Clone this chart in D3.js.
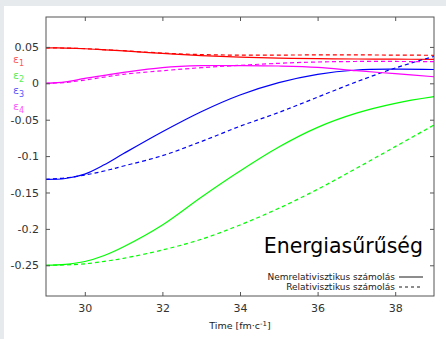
<!DOCTYPE html>
<html>
<head>
<meta charset="utf-8">
<script src="https://cdn.jsdelivr.net/npm/d3@7"></script>
<style>
  body { margin: 0; background: #e7eaed; }
  svg { display: block; font-family: "DejaVu Sans", sans-serif; }
</style>
</head>
<body>
<div id="chart"></div>
<script>
// time grid (fm/c) and the eccentricities
const times = [29, 29.5, 30, 30.5, 31, 32, 33, 34, 35, 36, 37, 38, 39];

const e1Nonrel = [0.0488, 0.0484, 0.0475, 0.046, 0.0445, 0.041, 0.038, 0.036, 0.0345, 0.0338, 0.0334, 0.0331, 0.033];
const e1Rel    = [0.0488, 0.0484, 0.0476, 0.0462, 0.0448, 0.0415, 0.0395, 0.0387, 0.0388, 0.039, 0.039, 0.0388, 0.0385];
const e2Nonrel = [-0.25, -0.2488, -0.2448, -0.2365, -0.2245, -0.1946, -0.1565, -0.1205, -0.0875, -0.0605, -0.041, -0.0275, -0.0184];
const e2Rel    = [-0.25, -0.2495, -0.248, -0.2447, -0.2404, -0.229, -0.2143, -0.1946, -0.1717, -0.1456, -0.1168, -0.087, -0.0573];
const e3Nonrel = [-0.132, -0.1308, -0.1248, -0.112, -0.0965, -0.0665, -0.039, -0.016, 0.001, 0.0124, 0.0183, 0.0195, 0.019];
const e3Rel    = [-0.132, -0.130, -0.126, -0.1205, -0.1136, -0.0994, -0.080, -0.059, -0.040, -0.019, 0.002, 0.021, 0.037];
const e4Nonrel = [0, 0.002, 0.0068, 0.011, 0.015, 0.0215, 0.0242, 0.0243, 0.0238, 0.022, 0.0173, 0.0132, 0.009];
const e4Rel    = [0, 0.0012, 0.0045, 0.0085, 0.0124, 0.0173, 0.0215, 0.0247, 0.0275, 0.0293, 0.030, 0.030, 0.0297];

const xTicks = [30, 32, 34, 36, 38];
const yTicks = [0.05, 0, -0.05, -0.1, -0.15, -0.2, -0.25];
const seriesNames = ["1", "2", "3", "4"];
const seriesColors = ["#ff0000", "#00ff00", "#0000ff", "#ff00ff"];
const labelColors = ["#ff5555", "#55ee55", "#5555ff", "#ff55ff"];

const W = 446, H = 339;
const margin = {left: 46, right: 12, top: 17, bottom: 43};
const width = W - margin.left - margin.right;
const height = H - margin.top - margin.bottom;

const svg = d3.select("#chart").append("svg")
  .attr("width", W).attr("height", H);

// white panel over the grey page
svg.append("rect").attr("x", 4).attr("y", 6)
  .attr("width", W - 4).attr("height", H - 6).attr("fill", "#ffffff");

const g = svg.append("g").attr("transform", `translate(${margin.left},${margin.top})`);

const x = d3.scaleLinear().domain([29, 39]).range([0, width]);
const y = d3.scaleLinear().domain([-0.2922, 0.0911]).range([height, 0]);

g.append("defs").append("clipPath").attr("id", "clip")
  .append("rect").attr("width", width).attr("height", height);

const line = d3.line()
  .x((d, i) => x(times[i]))
  .y(d => y(d))
  .curve(d3.curveCatmullRom.alpha(0.5));

const curves = [
  [e1Nonrel, e1Rel], [e2Nonrel, e2Rel], [e3Nonrel, e3Rel], [e4Nonrel, e4Rel]
];

const plot = g.append("g").attr("clip-path", "url(#clip)");
curves.forEach((pair, k) => {
  plot.append("path").datum(pair[0])
    .attr("d", line).attr("fill", "none")
    .attr("stroke", seriesColors[k]).attr("stroke-width", 1.2);
  plot.append("path").datum(pair[1])
    .attr("d", line).attr("fill", "none")
    .attr("stroke", seriesColors[k]).attr("stroke-width", 1.2)
    .attr("stroke-dasharray", "4,3");
});

// axes: gnuplot style, ticks inward on every side
const axisColor = "#555";
const tickLen = 4;

const axBottom = g.append("g").attr("transform", `translate(0,${height})`)
  .call(d3.axisBottom(x).tickValues(xTicks).tickSizeInner(-tickLen).tickSizeOuter(0).tickPadding(8));
const axTop = g.append("g")
  .call(d3.axisTop(x).tickValues(xTicks).tickSizeInner(-tickLen).tickSizeOuter(0).tickFormat(""));
const axLeft = g.append("g")
  .call(d3.axisLeft(y).tickValues(yTicks).tickSizeInner(-tickLen).tickSizeOuter(0).tickPadding(7)
    .tickFormat(d => d === 0 ? "0" : String(+d.toFixed(2))));
const axRight = g.append("g").attr("transform", `translate(${width},0)`)
  .call(d3.axisRight(y).tickValues(yTicks).tickSizeInner(-tickLen).tickSizeOuter(0).tickFormat(""));

[axBottom, axTop, axLeft, axRight].forEach(a => {
  a.select(".domain").remove();
  a.selectAll(".tick line").attr("stroke", axisColor);
  a.selectAll(".tick text").attr("fill", "#333").style("font-size", "11px")
    .style("font-family", "DejaVu Sans, sans-serif");
});

g.append("rect").attr("width", width).attr("height", height)
  .attr("fill", "none").attr("stroke", axisColor).attr("stroke-width", 1);

// epsilon labels at the left
seriesNames.forEach((n, k) => {
  const t = svg.append("text").attr("x", 13).attr("y", 63 + k * 15.5)
    .attr("fill", labelColors[k]).style("font-size", "11px");
  t.append("tspan").text("ε");
  t.append("tspan").attr("dy", 3).style("font-size", "8px").text(n);
});

// x axis title
const xt = svg.append("text").attr("x", 240).attr("y", 329)
  .attr("text-anchor", "middle").attr("fill", "#222").style("font-size", "9.5px");
xt.append("tspan").text("Time [fm·c");
xt.append("tspan").attr("dy", -3).style("font-size", "7px").text("-1");
xt.append("tspan").attr("dy", 3).text("]");

// title inside the plot
svg.append("text").attr("x", 423).attr("y", 253).attr("text-anchor", "end")
  .attr("fill", "#000").style("font-size", "20.5px").text("Energiasűrűség");

// key
const keyItems = [["Nemrelativisztikus számolás", null], ["Relativisztikus számolás", "3,3"]];
keyItems.forEach((it, k) => {
  const yy = 277 + k * 10;
  svg.append("text").attr("x", 395).attr("y", yy + 3).attr("text-anchor", "end")
    .attr("fill", "#222").style("font-size", "9px").text(it[0]);
  svg.append("line").attr("x1", 399).attr("x2", 423).attr("y1", yy).attr("y2", yy)
    .attr("stroke", "#000").attr("stroke-width", 0.9)
    .attr("stroke-dasharray", it[1]);
});
</script>
</body>
</html>
